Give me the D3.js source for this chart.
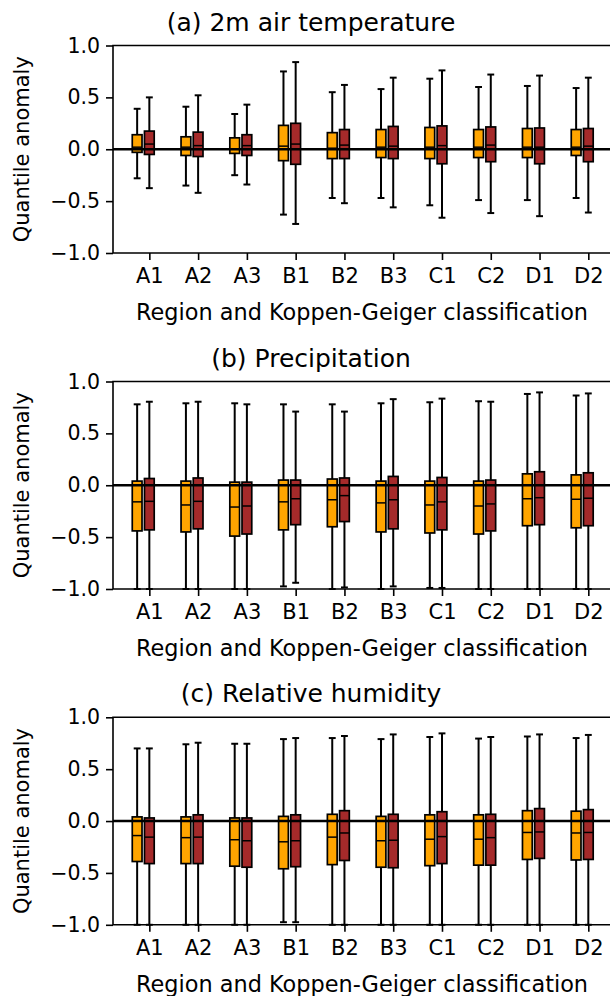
<!DOCTYPE html>
<html>
<head>
<meta charset="utf-8">
<script src="https://cdn.jsdelivr.net/npm/d3@7"></script>
<style>
  html, body { margin: 0; padding: 0; background: #fff; }
  svg { display: block; font-family: "DejaVu Sans", sans-serif; }
</style>
</head>
<body>
<svg id="chart" width="610" height="996"></svg>
<script>
// ---- data (lowWhisker, Q1, median, Q3, highWhisker) ----
const categories = ["A1","A2","A3","B1","B2","B3","C1","C2","D1","D2"];
const yTicks = [-1.0, -0.5, 0.0, 0.5, 1.0];
const titles = ["(a) 2m air temperature", "(b) Precipitation", "(c) Relative humidity"];
const xLabel = "Region and Koppen-Geiger classification";
const yLabel = "Quantile anomaly";

const tempOrange = [
  [-0.28,-0.03,0.02,0.14,0.39],[-0.35,-0.06,0.02,0.12,0.41],[-0.25,-0.04,0.00,0.11,0.34],
  [-0.63,-0.11,0.03,0.23,0.75],[-0.47,-0.09,0.01,0.16,0.55],[-0.47,-0.08,0.02,0.19,0.58],
  [-0.54,-0.09,0.02,0.21,0.68],[-0.49,-0.08,0.02,0.19,0.60],[-0.49,-0.08,0.02,0.20,0.61],
  [-0.47,-0.06,0.02,0.19,0.59]];
const tempRed = [
  [-0.375,-0.05,0.05,0.175,0.50],[-0.42,-0.07,0.035,0.165,0.52],[-0.34,-0.06,0.035,0.14,0.43],
  [-0.72,-0.145,0.05,0.25,0.84],[-0.52,-0.09,0.04,0.19,0.62],[-0.56,-0.09,0.03,0.22,0.69],
  [-0.66,-0.14,0.035,0.225,0.76],[-0.615,-0.12,0.04,0.215,0.72],[-0.645,-0.14,0.02,0.205,0.71],
  [-0.61,-0.12,0.03,0.20,0.69]];
const precOrange = [
  [-1.0,-0.44,-0.16,0.04,0.78],[-1.0,-0.45,-0.19,0.04,0.79],[-1.0,-0.49,-0.21,0.03,0.79],
  [-0.975,-0.43,-0.16,0.05,0.78],[-1.0,-0.40,-0.14,0.06,0.78],[-1.0,-0.45,-0.17,0.04,0.79],
  [-0.99,-0.46,-0.19,0.04,0.80],[-1.0,-0.47,-0.20,0.04,0.81],[-1.0,-0.39,-0.13,0.11,0.88],
  [-1.0,-0.41,-0.135,0.10,0.865]];
const precRed = [
  [-1.0,-0.43,-0.155,0.065,0.805],[-1.0,-0.42,-0.155,0.07,0.805],[-1.0,-0.47,-0.20,0.03,0.78],
  [-0.94,-0.38,-0.13,0.05,0.71],[-0.985,-0.35,-0.10,0.07,0.71],[-0.975,-0.42,-0.14,0.085,0.83],
  [-0.99,-0.43,-0.16,0.075,0.835],[-1.0,-0.44,-0.18,0.05,0.805],[-1.0,-0.38,-0.12,0.13,0.895],
  [-1.0,-0.39,-0.125,0.12,0.885]];
const rhOrange = [
  [-1.0,-0.39,-0.14,0.04,0.70],[-1.0,-0.41,-0.16,0.04,0.74],[-1.0,-0.435,-0.18,0.03,0.745],
  [-0.975,-0.46,-0.20,0.045,0.79],[-1.0,-0.42,-0.155,0.065,0.80],[-1.0,-0.445,-0.19,0.045,0.79],
  [-1.0,-0.43,-0.175,0.06,0.81],[-1.0,-0.425,-0.175,0.06,0.795],[-1.0,-0.37,-0.11,0.10,0.815],
  [-1.0,-0.375,-0.115,0.095,0.80]];
const rhRed = [
  [-1.0,-0.41,-0.155,0.03,0.70],[-1.0,-0.41,-0.155,0.06,0.755],[-1.0,-0.445,-0.19,0.03,0.745],
  [-0.975,-0.44,-0.19,0.06,0.80],[-1.0,-0.38,-0.115,0.10,0.82],[-1.0,-0.45,-0.185,0.065,0.835],
  [-1.0,-0.41,-0.15,0.09,0.845],[-1.0,-0.425,-0.16,0.065,0.81],[-1.0,-0.36,-0.105,0.12,0.835],
  [-1.0,-0.37,-0.11,0.11,0.83]];

const panels = [
  {title: titles[0], series: [tempOrange, tempRed]},
  {title: titles[1], series: [precOrange, precRed]},
  {title: titles[2], series: [rhOrange, rhRed]}
];
const seriesColors = ["#FFA500", "#A52A2A"];
const seriesOffsets = [-0.25, 0];

// ---- layout ----
const left = 113, right = 611;
const panelTops = [45.5, 381.5, 717.3];
const panelH = 207.5;
const boxW = 0.2, capW = 0.1;

const svg = d3.select("#chart");
const x = d3.scaleLinear().domain([0.255, 10.465]).range([left, right]);

panels.forEach((p, pi) => {
  const top = panelTops[pi], bottom = top + panelH;
  const y = d3.scaleLinear().domain([-1, 1]).range([bottom, top]);
  const g = svg.append("g");

  // boxes
  p.series.forEach((ser, si) => {
    const sg = g.append("g");
    ser.forEach((d, i) => {
      const pos = i + 1 + seriesOffsets[si];
      const [lo, q1, med, q3, hi] = d;
      const cx = x(pos);
      // whiskers
      sg.append("line").attr("x1", cx).attr("x2", cx).attr("y1", y(q3)).attr("y2", y(hi))
        .attr("stroke", "#000").attr("stroke-width", 2);
      sg.append("line").attr("x1", cx).attr("x2", cx).attr("y1", y(q1)).attr("y2", y(lo))
        .attr("stroke", "#000").attr("stroke-width", 2);
      // caps
      [lo, hi].forEach(v => {
        sg.append("line").attr("x1", x(pos - capW/2)).attr("x2", x(pos + capW/2))
          .attr("y1", y(v)).attr("y2", y(v))
          .attr("stroke", "#000").attr("stroke-width", 2).attr("stroke-linecap", "square");
      });
      // box
      sg.append("rect").attr("x", x(pos - boxW/2)).attr("width", x(pos + boxW/2) - x(pos - boxW/2))
        .attr("y", y(q3)).attr("height", y(q1) - y(q3))
        .attr("fill", seriesColors[si]).attr("stroke", "#000").attr("stroke-width", 1.7);
      // median
      sg.append("line").attr("x1", x(pos - boxW/2)).attr("x2", x(pos + boxW/2))
        .attr("y1", y(med)).attr("y2", y(med))
        .attr("stroke", "#000").attr("stroke-width", 1.5);
    });
  });

  // zero line
  g.append("line").attr("x1", left).attr("x2", right).attr("y1", y(0)).attr("y2", y(0))
    .attr("stroke", "#000").attr("stroke-width", 2.5);

  // spines
  g.append("path").attr("d", `M${right},${top}H${left}V${bottom}H${right}`)
    .attr("fill", "none").attr("stroke", "#000").attr("stroke-width", 1.6);

  // y axis
  const yAxis = d3.axisLeft(y).tickValues(yTicks).tickSize(7).tickPadding(6)
    .tickFormat(d => d3.format(".1f")(d).replace("-", "\u2212"));
  const ya = g.append("g").attr("transform", `translate(${left},0)`).call(yAxis);
  ya.select(".domain").remove();
  ya.selectAll(".tick line").attr("stroke", "#000").attr("stroke-width", 1.6);
  ya.selectAll(".tick text").attr("font-size", 20.5).attr("fill", "#000")
    .attr("font-family", "DejaVu Sans");

  // x axis
  const xAxis = d3.axisBottom(x).tickValues(d3.range(1, 11)).tickSize(7).tickPadding(8)
    .tickFormat((d, i) => categories[i]);
  const xa = g.append("g").attr("transform", `translate(0,${bottom})`).call(xAxis);
  xa.select(".domain").remove();
  xa.selectAll(".tick line").attr("stroke", "#000").attr("stroke-width", 1.6);
  xa.selectAll(".tick text").attr("font-size", 21).attr("fill", "#000")
    .attr("font-family", "DejaVu Sans");

  // x label
  g.append("text").attr("x", 362).attr("y", bottom + 67)
    .attr("text-anchor", "middle").attr("font-size", 22.4).attr("fill", "#000").text(xLabel);

  // y label
  g.append("text").attr("transform", `translate(${29},${(top + bottom) / 2}) rotate(-90)`)
    .attr("text-anchor", "middle").attr("font-size", 21).attr("fill", "#000").text(yLabel);

  // title
  g.append("text").attr("x", 311).attr("y", top - 15)
    .attr("text-anchor", "middle").attr("font-size", 25).attr("fill", "#000").text(p.title);
});
</script>
</body>
</html>
